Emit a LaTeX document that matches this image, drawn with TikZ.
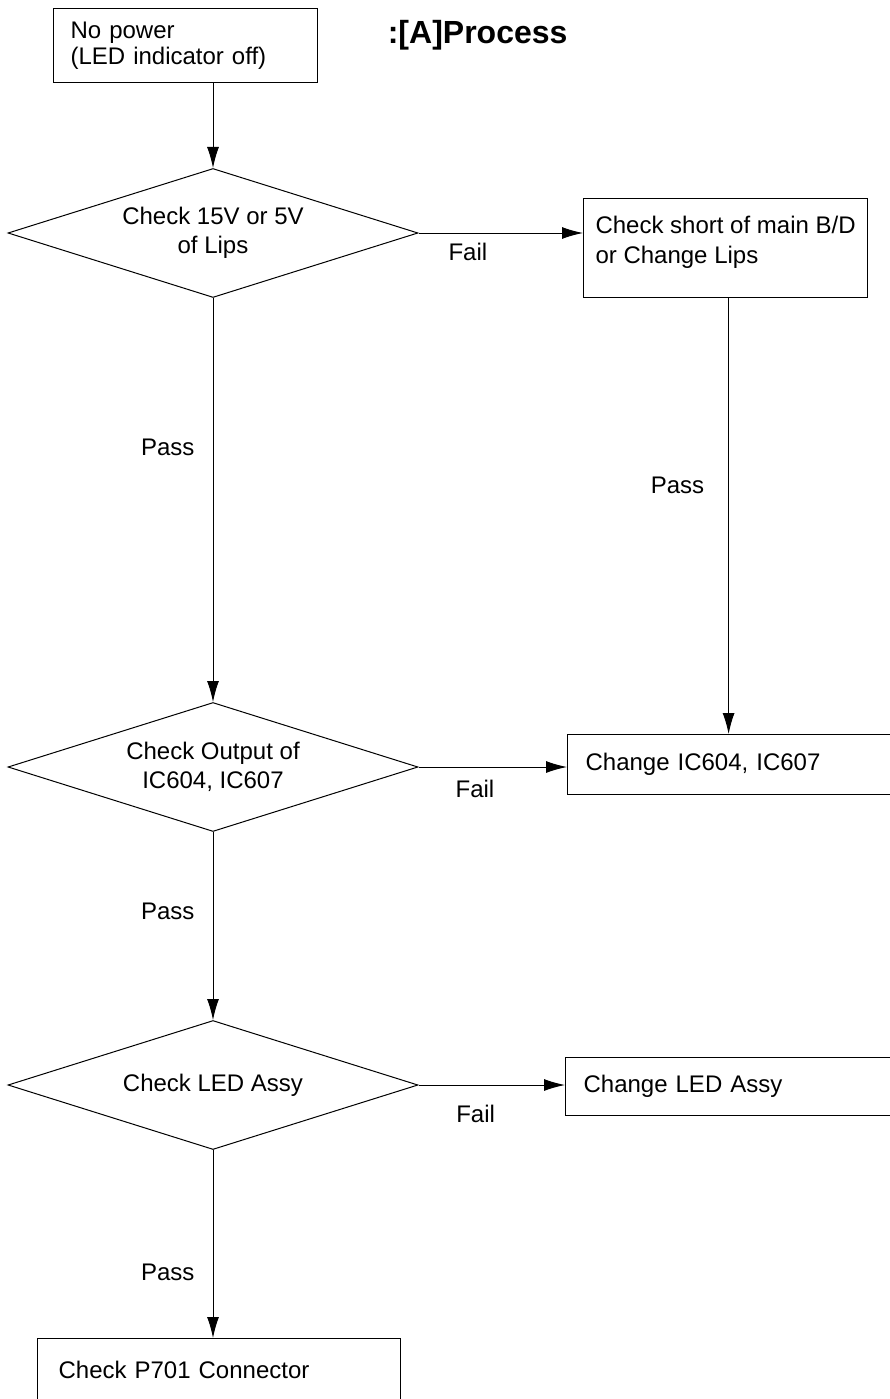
\documentclass[tikz,border=0pt]{standalone}
\usepackage{fontspec}
\setmainfont{Liberation Sans}
\usetikzlibrary{shapes.geometric, arrows.meta, positioning}
\tikzstyle{block}=[draw,fill=white,rectangle,align=left,inner ysep=0pt,line width=1.2pt]
\tikzstyle{decision}=[draw,diamond,aspect=3.18,minimum width=410pt,minimum height=129pt,inner sep=0pt,align=center]
\tikzstyle{lbl}=[inner sep=0pt]
\tikzstyle{every node}=[font=\fontsize{24}{29}\selectfont]

\begin{document}
\begin{tikzpicture}[x=1pt,y=-1pt,>={Latex[length=21pt,width=12pt]},line width=1pt]
  \useasboundingbox (0,0) rectangle (890,1399);
  % start and title
  \node[block,anchor=north west,text width=230pt,inner xsep=17pt,minimum height=74pt,font=\fontsize{24}{26}\selectfont] (nopower) at (53,8) {No power\\(LED indicator off)};
  \node[anchor=west,font=\bfseries\fontsize{32}{38}\selectfont] (title) at (384,35) {:[A]Process};
  % checks
  \node[decision] (chklips) at (213,233) {Check 15V or 5V\\of Lips};
  \node[decision] (chkic) at (213,767) {Check Output of\\IC604, IC607};
  \node[decision] (chkled) at (213,1085) {Check LED Assy};
  % actions
  \node[block,anchor=north west,minimum width=284pt,minimum height=99pt,text depth=16pt,font=\fontsize{24}{30}\selectfont] (lips) at (583,198) {Check short of main B/D\\or Change Lips};
  \node[block,anchor=north west,text width=320pt,inner xsep=18pt,minimum height=60pt] (ic) at (567,734) {Change IC604, IC607};
  \node[block,anchor=north west,text width=320pt,inner xsep=18pt,minimum height=58pt] (led) at (565,1057) {Change LED Assy};
  \node[block,anchor=north west,text width=321pt,inner xsep=21pt,minimum height=62pt] (p701) at (37,1338) {Check P701 Connector};
  % connectors
  \draw[->] (nopower.south -| chklips.north) -- (chklips.north);
  \draw[->] (chklips.east) -- (chklips.east -| lips.west) node[lbl,pos=0.3,below=10pt] (fail1) {Fail};
  \draw[->] ([xshift=3pt]lips.south) -- ([xshift=3pt]lips.south |- ic.north) node[lbl,pos=0.43,left=24pt] (pass2) {Pass};
  \draw[->] (chklips) -- (chkic) node[lbl,pos=0.37,left=18pt] (pass1) {Pass};
  \draw[->] (chkic.east) -- (chkic.east -| ic.west) node[lbl,pos=0.38,below=13pt] (fail2) {Fail};
  \draw[->] (chkic) -- (chkled) node[lbl,pos=0.42,left=18pt] (pass3) {Pass};
  \draw[->] (chkled.east) -- (chkled.east -| led.west) node[lbl,pos=0.39,below=20pt] (fail3) {Fail};
  \draw[->] (chkled.south) -- (chkled.south |- p701.north) node[lbl,pos=0.65,left=18pt] (pass4) {Pass};
\end{tikzpicture}
\end{document}
